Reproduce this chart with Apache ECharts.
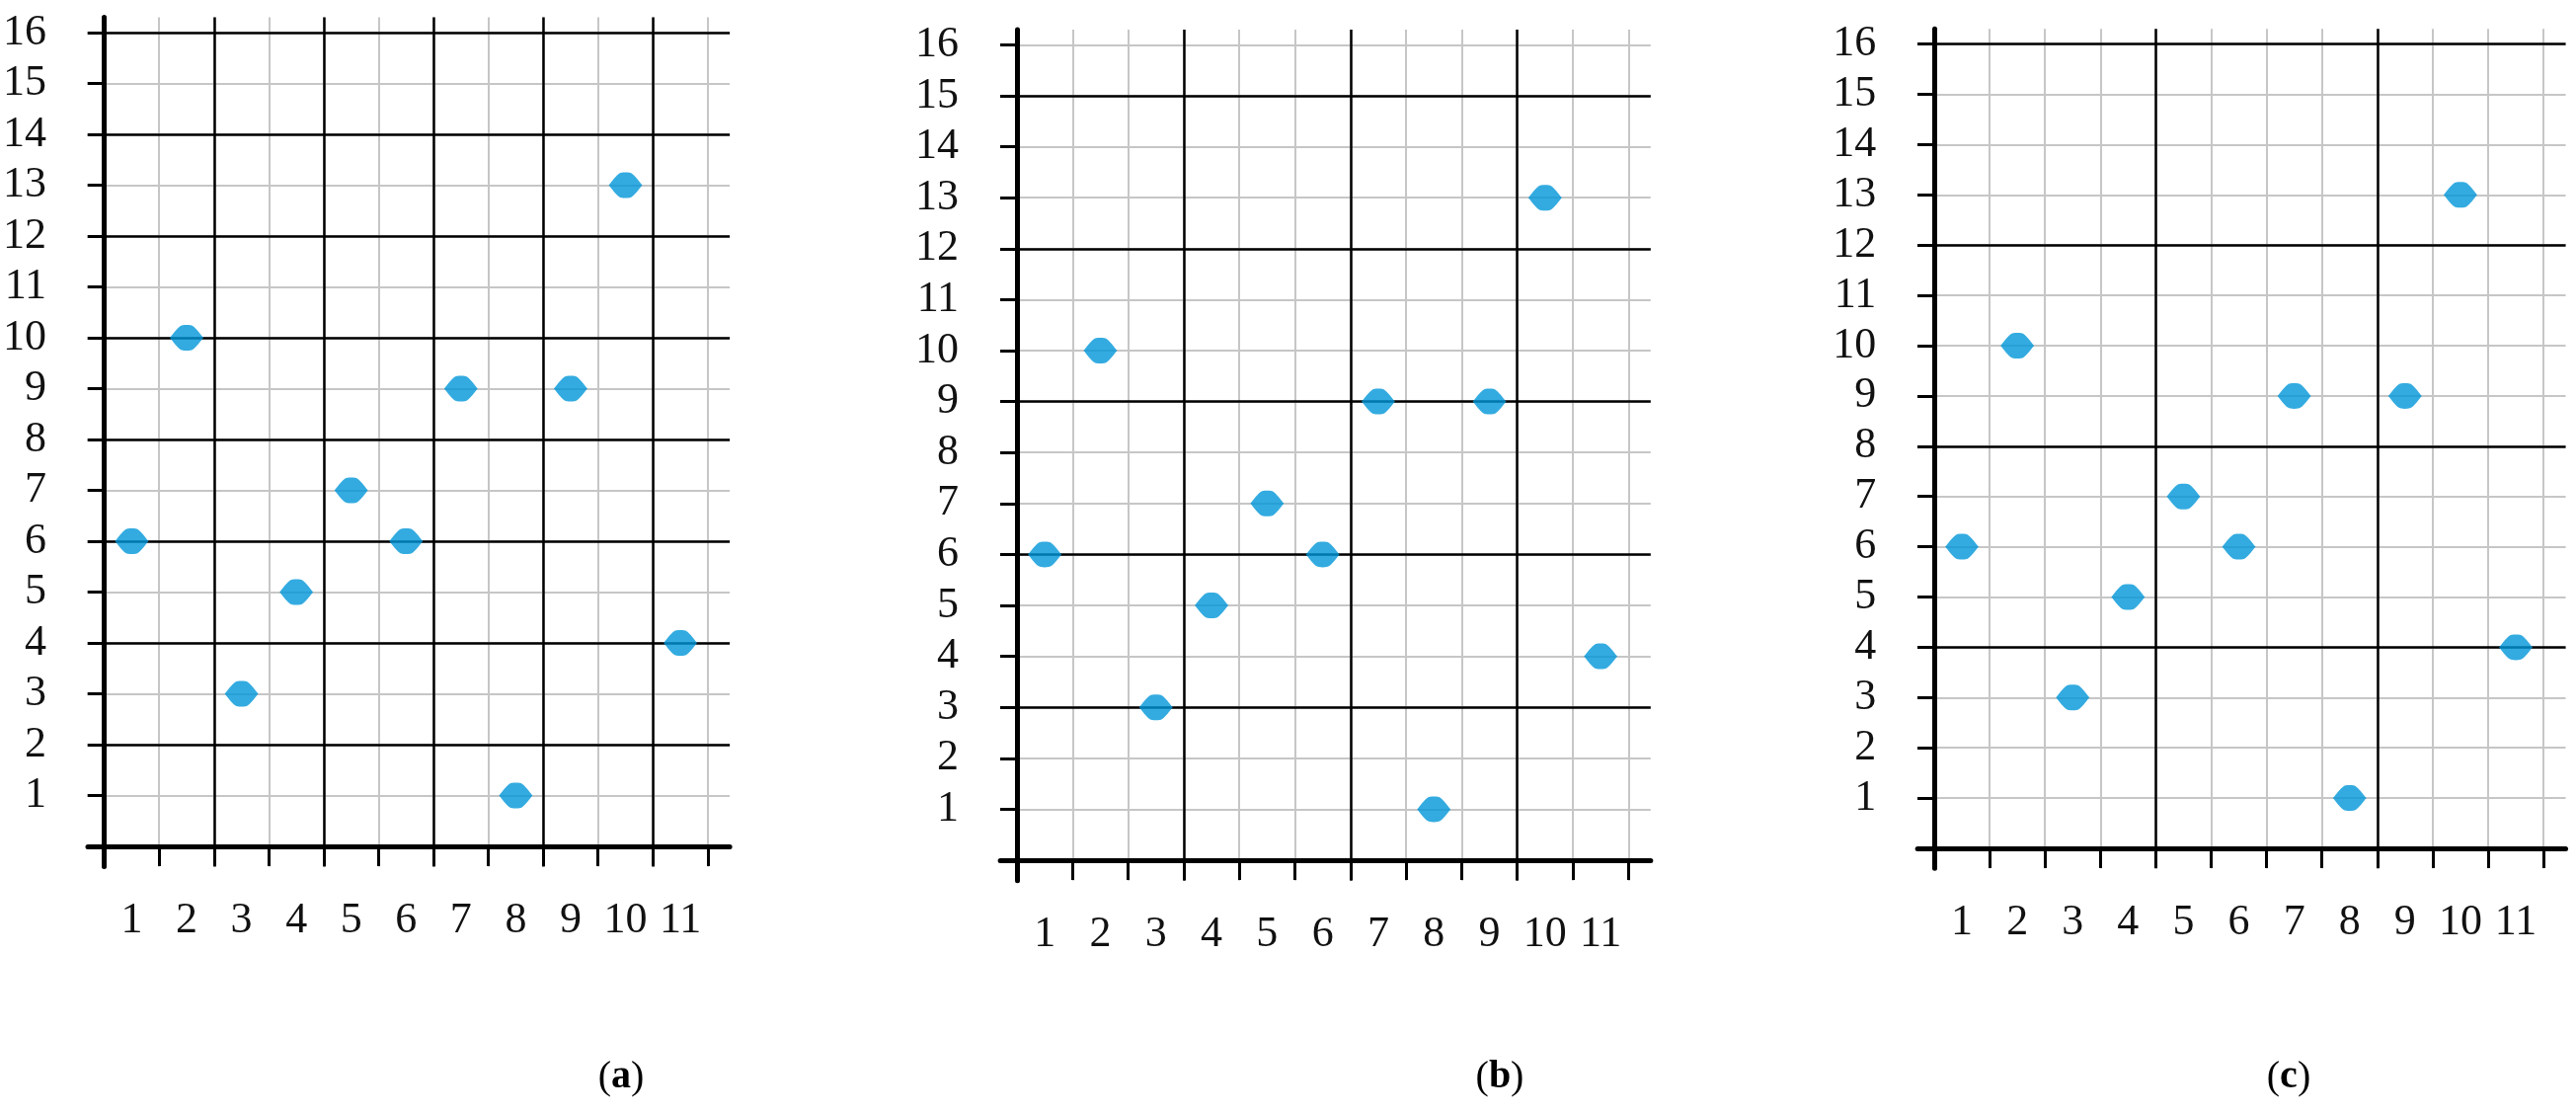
<!DOCTYPE html>
<html>
<head>
<meta charset="utf-8">
<title>scatter panels</title>
<script src="https://cdn.jsdelivr.net/npm/echarts@6/dist/echarts.min.js"></script>
<style>
    html, body { margin: 0; padding: 0; background: #fff; }
    #main { width: 2609px; height: 1129px; }
</style>
</head>
<body>
<div id="main"></div>
<script>
// 数据
var categories = ['1', '2', '3', '4', '5', '6', '7', '8', '9', '10', '11'];
var yLabels = ['1', '2', '3', '4', '5', '6', '7', '8', '9', '10', '11', '12', '13', '14', '15', '16'];
var valuesA = [6, 10, 3, 5, 7, 6, 9, 1, 9, 13, 4];
var valuesB = [6, 10, 3, 5, 7, 6, 9, 1, 9, 13, 4];
var valuesC = [6, 10, 3, 5, 7, 6, 9, 1, 9, 13, 4];
var captions = ['a', 'b', 'c'];
// 粗线间隔（每隔几格一条黑线）
var majorSteps = [2, 3, 4];

(function () {
    var myChart = echarts.init(document.getElementById('main'));
    var seriesValues = [valuesA, valuesB, valuesC];

    // 每个面板：原点位置、格子宽高（像素）
    var panels = [
        { ox: 95, oy: 857, cw: 56.5, uh: 51.5, cap: 624 },
        { ox: 1030, oy: 871, cw: 56.3, uh: 51.6, cap: 1514 },
        { ox: 1959, oy: 859, cw: 56.1, uh: 50.9, cap: 2313 }
    ];
    var X_MIN = -0.3, X_MAX = 11.4, Y_MIN = -0.4, Y_MAX = 16.3;
    var font = 'Liberation Serif, Times New Roman, serif';

    function range(a, b, step) {
        var out = [];
        for (var v = a; v <= b; v += step) out.push(v);
        return out;
    }

    var grids = [], xAxes = [], yAxes = [], series = [], titles = [];

    panels.forEach(function (p, i) {
        grids.push({
            left: p.ox + X_MIN * p.cw,
            top: p.oy - Y_MAX * p.uh,
            width: (X_MAX - X_MIN) * p.cw,
            height: (Y_MAX - Y_MIN) * p.uh,
            containLabel: false
        });
        var xMajor = range(0, categories.length, majorSteps[i]);
        var yMajor = range(0, yLabels.length, majorSteps[i]);

        // 细灰线 + 坐标轴
        xAxes.push({
            gridIndex: i,
            type: 'value',
            min: X_MIN,
            max: X_MAX,
            position: 'bottom',
            z: 0,
            axisLine: { show: true, onZero: true, lineStyle: { color: '#000', width: 5 } },
            axisTick: {
                show: true,
                customValues: range(0, categories.length, 1),
                length: 20,
                lineStyle: { color: '#000', width: 3 }
            },
            axisLabel: {
                show: true,
                customValues: categories.map(function (c, k) { return k + 0.5; }),
                formatter: function (v) { return categories[Math.floor(v)]; },
                fontFamily: font,
                fontSize: 44,
                color: '#111',
                margin: 33
            },
            splitLine: { show: true, lineStyle: { color: '#c6c6c6', width: 2 } }
        });
        // 粗黑线
        xAxes.push({
            gridIndex: i,
            type: 'value',
            min: X_MIN,
            max: X_MAX,
            position: 'top',
            z: 1,
            axisLine: { show: false },
            axisTick: { show: false, customValues: xMajor },
            axisLabel: { show: false },
            splitLine: { show: true, lineStyle: { color: '#000', width: 2.5 } }
        });

        yAxes.push({
            gridIndex: i,
            type: 'value',
            min: Y_MIN,
            max: Y_MAX,
            position: 'left',
            z: 0,
            axisLine: { show: true, onZero: true, lineStyle: { color: '#000', width: 5 } },
            axisTick: {
                show: true,
                customValues: range(0, yLabels.length, 1),
                length: 17,
                lineStyle: { color: '#000', width: 3 }
            },
            axisLabel: {
                show: true,
                customValues: yLabels.map(function (c, k) { return k + 1; }),
                formatter: function (v) { return yLabels[v - 1]; },
                fontFamily: font,
                fontSize: 44,
                color: '#111',
                margin: 42
            },
            splitLine: { show: true, lineStyle: { color: '#c6c6c6', width: 2 } }
        });
        yAxes.push({
            gridIndex: i,
            type: 'value',
            min: Y_MIN,
            max: Y_MAX,
            position: 'right',
            z: 1,
            axisLine: { show: false },
            axisTick: { show: false, customValues: yMajor },
            axisLabel: { show: false },
            splitLine: { show: true, lineStyle: { color: '#000', width: 2.5 } }
        });

        series.push({
            type: 'scatter',
            xAxisIndex: i * 2,
            yAxisIndex: i * 2,
            z: 5,
            symbol: 'path://M0,50 C10,35 22,12 32,4 C36,1 40,0 50,0 C60,0 64,1 68,4 C78,12 90,35 100,50 C90,65 78,88 68,96 C64,99 60,100 50,100 C40,100 36,99 32,96 C22,88 10,65 0,50 Z',
            symbolSize: [34, 26],
            itemStyle: { color: '#0096d8' },
            data: seriesValues[i].map(function (v, k) { return [k + 0.5, v]; })
        });

        titles.push({
            text: '{p|(}{b|' + captions[i] + '}{p|)}',
            left: p.cap,
            top: 1066,
            textAlign: 'center',
            textStyle: {
                fontWeight: 'normal',
                rich: {
                    p: { fontFamily: font, fontSize: 40, fontWeight: 'normal', color: '#000' },
                    b: { fontFamily: font, fontSize: 40, fontWeight: 'bold', color: '#000' }
                }
            }
        });
    });

    var option = {
        backgroundColor: '#fff',
        animation: false,
        title: titles,
        grid: grids,
        xAxis: xAxes,
        yAxis: yAxes,
        series: series
    };
    myChart.setOption(option);
    window.addEventListener('resize', function () {
        myChart.resize();
    });
})();
</script>
</body>
</html>
